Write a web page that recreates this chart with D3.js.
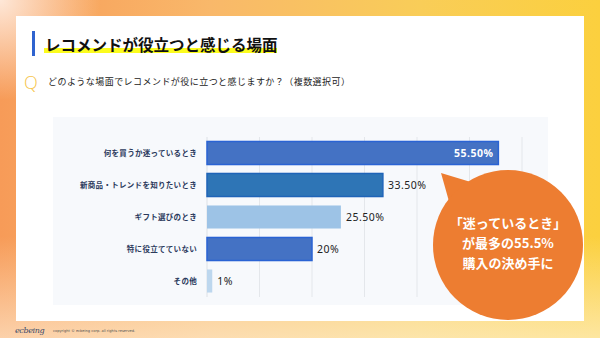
<!DOCTYPE html>
<html lang="ja">
<head>
<meta charset="utf-8">
<title>レコメンドが役立つと感じる場面</title>
<script src="https://cdn.jsdelivr.net/npm/d3@7"></script>
<style>
  html, body { margin: 0; padding: 0; }
  body {
    width: 600px; height: 338px; overflow: hidden;
    background:
      radial-gradient(ellipse 100px 100px at 0px 0px, rgba(255,240,230,0.9), rgba(255,240,230,0)),
      linear-gradient(to bottom, rgba(255,255,255,0) 70%, rgba(255,245,225,0.6) 100%),
      linear-gradient(to right, #f79b58 0%, #f9b86a 35%, #f9cd58 70%, #fbd03e 100%);
    font-family: "Noto Sans CJK JP", "Noto Sans", sans-serif;
  }
  svg { display: block; }
</style>
</head>
<body>
<script>
  // data
  var categories = ["何を買うか迷っているとき", "新商品・トレンドを知りたいとき", "ギフト選びのとき", "特に役立てていない", "その他"];
  var values = [55.5, 33.5, 25.5, 20, 1];
  var valueLabels = ["55.50%", "33.50%", "25.50%", "20%", "1%"];
  var barColors = ["#4472c4", "#2e75b6", "#9dc3e6", "#4472c4", "#bdd7ee"];
  var barStrokes = ["#2a63d4", "#1f64b8", "none", "#2a63d4", "none"];
  var gridTicks = [10, 20, 30, 40, 50, 60];
  var calloutLines = ["「迷っているとき」", "が最多の55.5%", "購入の決め手に"];

  var svg = d3.select("body").append("svg")
    .attr("width", 600)
    .attr("height", 338);

  // white card
  svg.append("rect")
    .attr("x", 16).attr("y", 16)
    .attr("width", 568).attr("height", 305)
    .attr("fill", "#ffffff");

  // title
  svg.append("rect")
    .attr("x", 32).attr("y", 31).attr("width", 3).attr("height", 25)
    .attr("fill", "#2f63cf");
  svg.append("rect")
    .attr("x", 44).attr("y", 48).attr("width", 233).attr("height", 5)
    .attr("fill", "#fcfc1e");
  svg.append("text")
    .attr("x", 45).attr("y", 51)
    .attr("font-size", 15.5).attr("font-weight", "bold")
    .attr("fill", "#111")
    .text("レコメンドが役立つと感じる場面");

  // question
  svg.append("text")
    .attr("x", 24).attr("y", 89)
    .attr("font-family", "'Open Sans', sans-serif")
    .attr("font-size", 18).attr("font-weight", 300)
    .attr("fill", "#f6c449")
    .text("Q");
  svg.append("text")
    .attr("x", 48).attr("y", 85)
    .attr("font-size", 9)
    .attr("letter-spacing", 0.45)
    .attr("fill", "#222")
    .text("どのような場面でレコメンドが役に立つと感じますか？（複数選択可）");

  // chart panel
  svg.append("rect")
    .attr("x", 53).attr("y", 117)
    .attr("width", 495).attr("height", 188)
    .attr("fill", "#f7f9fc");

  var x = d3.scaleLinear().domain([0, 60]).range([207, 522]);
  var y = d3.scaleBand().domain(categories).range([137, 297])
    .paddingInner(0.28).paddingOuter(0.14);

  // gridlines
  svg.append("g").selectAll("line")
    .data(gridTicks)
    .enter().append("line")
    .attr("x1", function(d) { return x(d); })
    .attr("x2", function(d) { return x(d); })
    .attr("y1", 137).attr("y2", 297)
    .attr("stroke", "#e4e7eb").attr("stroke-width", 1);

  svg.append("line")
    .attr("x1", x(0)).attr("x2", x(0))
    .attr("y1", 137).attr("y2", 297)
    .attr("stroke", "#dde1e6").attr("stroke-width", 1);

  // bars
  svg.append("g").selectAll("rect")
    .data(values)
    .enter().append("rect")
    .attr("x", x(0))
    .attr("y", function(d, i) { return y(categories[i]); })
    .attr("width", function(d) { return x(d) - x(0); })
    .attr("height", y.bandwidth())
    .attr("fill", function(d, i) { return barColors[i]; })
    .attr("stroke", function(d, i) { return barStrokes[i]; })
    .attr("stroke-width", 1.5);

  // category labels
  svg.append("g").selectAll("text")
    .data(categories)
    .enter().append("text")
    .attr("x", 197)
    .attr("y", function(d) { return y(d) + y.bandwidth() / 2; })
    .attr("dy", "0.35em")
    .attr("text-anchor", "end")
    .attr("font-size", 7.5).attr("font-weight", "bold")
    .attr("letter-spacing", 0.3)
    .attr("fill", "#2b3a5c")
    .text(function(d) { return d; });

  // value labels
  svg.append("g").selectAll("text")
    .data(values)
    .enter().append("text")
    .attr("x", function(d, i) { return i === 0 ? x(d) - 5 : x(d) + 5; })
    .attr("y", function(d, i) { return y(categories[i]) + y.bandwidth() / 2; })
    .attr("dy", "0.36em")
    .attr("text-anchor", function(d, i) { return i === 0 ? "end" : "start"; })
    .attr("font-family", "'Noto Sans', sans-serif")
    .attr("font-size", 10.5)
    .attr("font-weight", function(d, i) { return i === 0 ? "bold" : "normal"; })
    .attr("letter-spacing", 0.5)
    .attr("fill", function(d, i) { return i === 0 ? "#ffffff" : "#222"; })
    .text(function(d, i) { return valueLabels[i]; });

  // speech bubble
  var cx = 508, cy = 245, r = 75;
  var bubble = svg.append("g");
  bubble.append("path")
    .attr("d", "M441,173 L474,183 L452,212 Z")
    .attr("fill", "#ed7d31");
  bubble.append("circle")
    .attr("cx", cx).attr("cy", cy).attr("r", r)
    .attr("fill", "#ed7d31");
  bubble.selectAll("text.callout")
    .data(calloutLines)
    .enter().append("text")
    .attr("class", "callout")
    .attr("x", cx)
    .attr("y", function(d, i) { return 223 + i * 20; })
    .attr("dy", "0.36em")
    .attr("text-anchor", "middle")
    .attr("font-size", 13).attr("font-weight", "bold")
    .attr("fill", "#ffffff")
    .text(function(d) { return d; });

  // footer
  svg.append("text")
    .attr("x", 15).attr("y", 333)
    .attr("font-family", "'DejaVu Serif', serif")
    .attr("font-style", "italic")
    .attr("font-size", 8)
    .attr("letter-spacing", -0.4)
    .attr("fill", "#3a4a6a")
    .text("ecbeing");
  svg.append("text")
    .attr("x", 53).attr("y", 332)
    .attr("font-family", "'DejaVu Sans', sans-serif")
    .attr("font-size", 3.6)
    .attr("fill", "#555")
    .text("copyright © ecbeing corp. all rights reserved.");
</script>
</body>
</html>
